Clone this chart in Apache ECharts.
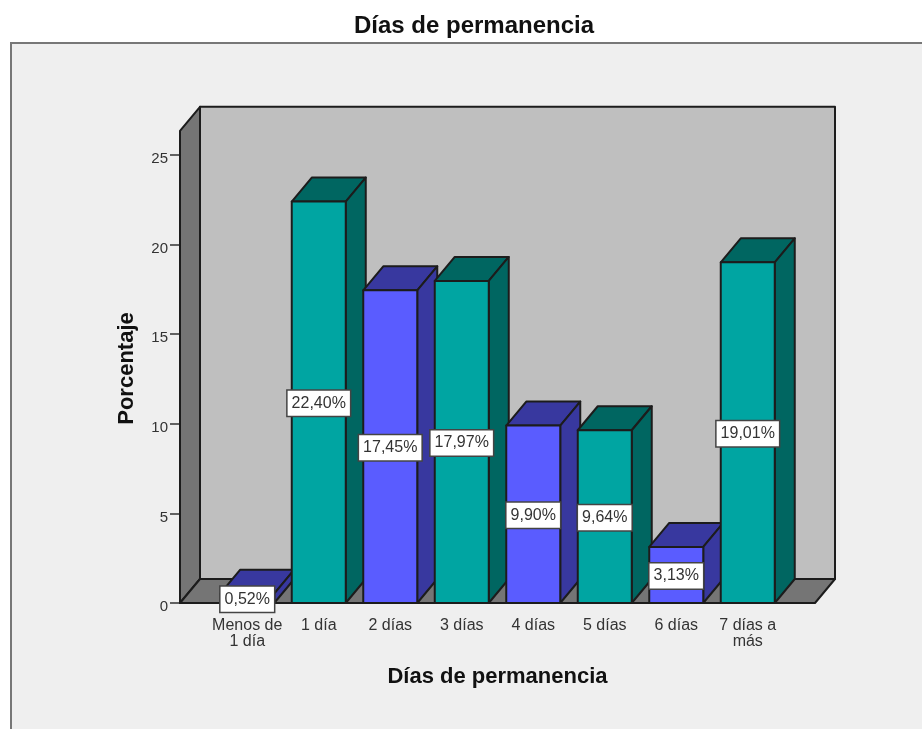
<!DOCTYPE html>
<html>
<head>
<meta charset="utf-8">
<title>Días de permanencia</title>
<script src="https://cdn.jsdelivr.net/npm/echarts@6/dist/echarts.min.js"></script>
<style>
  html, body { margin: 0; padding: 0; background: #fff; }
  #chart { width: 922px; height: 729px; }
</style>
</head>
<body>
<div id="chart"></div>
<script>
const categories = ['Menos de\n1 día', '1 día', '2 días', '3 días', '4 días', '5 días', '6 días', '7 días a\nmás'];
const percentages = [0.52, 22.40, 17.45, 17.97, 9.90, 9.64, 3.13, 19.01];
const valueLabels = ['0,52%', '22,40%', '17,45%', '17,97%', '9,90%', '9,64%', '3,13%', '19,01%'];
const blueCategories = ['Menos de\n1 día', '2 días', '4 días', '6 días'];
const wallTopValue = 26.35;

const DEPTH_X = 20;
const DEPTH_Y = -24;
const WALL_PAD = 31.5;
const BAR_WIDTH = 54;
const LINE = '#1c1c1c';
const LINE_W = 2;
const TEXT = '#333';
const FONT = 'Liberation Sans, Arial, sans-serif';

const face = (points, fill) => ({
  type: 'polygon',
  shape: { points },
  style: { fill, stroke: LINE, lineWidth: LINE_W, lineJoin: 'round' }
});

const renderWalls = (params, api) => {
  const band = api.size([1, 0])[0];
  const left = api.coord([0, 0])[0] - band / 2 - WALL_PAD;
  const right = api.coord([7, 0])[0] + band / 2 + WALL_PAD;
  const base = api.coord([0, 0])[1];
  const top = api.coord([0, wallTopValue])[1];
  return {
    type: 'group',
    children: [
      face([[left + DEPTH_X, top + DEPTH_Y], [right + DEPTH_X, top + DEPTH_Y], [right + DEPTH_X, base + DEPTH_Y], [left + DEPTH_X, base + DEPTH_Y]], '#bfbfbf'),
      face([[left, top], [left + DEPTH_X, top + DEPTH_Y], [left + DEPTH_X, base + DEPTH_Y], [left, base]], '#757575'),
      face([[left, base], [left + DEPTH_X, base + DEPTH_Y], [right + DEPTH_X, base + DEPTH_Y], [right, base]], '#757575')
    ]
  };
};

const renderBar = (params, api) => {
  const i = api.value(0);
  const p = api.coord([i, api.value(1)]);
  const y0 = api.coord([i, 0])[1];
  const x1 = p[0] - BAR_WIDTH / 2;
  const x2 = p[0] + BAR_WIDTH / 2;
  const y1 = p[1];
  const blue = blueCategories.indexOf(categories[i]) >= 0;
  const front = blue ? '#5a5cff' : '#00a5a2';
  const shade = blue ? '#38389f' : '#006661';
  return {
    type: 'group',
    children: [
      face([[x1, y1], [x1 + DEPTH_X, y1 + DEPTH_Y], [x2 + DEPTH_X, y1 + DEPTH_Y], [x2, y1]], shade),
      face([[x2, y1], [x2 + DEPTH_X, y1 + DEPTH_Y], [x2 + DEPTH_X, y0 + DEPTH_Y], [x2, y0]], shade),
      face([[x1, y1], [x2, y1], [x2, y0], [x1, y0]], front)
    ]
  };
};

const renderLabel = (params, api) => {
  const i = api.value(0);
  const p = api.coord([i, api.value(1) / 2]);
  return {
    type: 'text',
    style: {
      x: p[0],
      y: p[1] + 1,
      text: valueLabels[i],
      align: 'center',
      verticalAlign: 'middle',
      fill: TEXT,
      font: '16px ' + FONT,
      backgroundColor: '#fff',
      borderColor: '#444',
      borderWidth: 1.5,
      padding: [5, 4, 4, 4]
    }
  };
};

const rows = percentages.map((v, i) => [i, v]);

const option = {
  animation: false,
  backgroundColor: '#fff',
  title: {
    text: 'Días de permanencia',
    left: 469,
    top: 9,
    textAlign: 'center',
    textStyle: { color: '#111', fontFamily: FONT, fontWeight: 'bold', fontSize: 24 }
  },
  graphic: [{
    type: 'rect',
    z: -10,
    shape: { x: 11, y: 43, width: 930, height: 710 },
    style: { fill: '#efefef', stroke: '#777', lineWidth: 2 }
  }],
  grid: { left: 211.5, top: 155, width: 572, bottom: 126 },
  xAxis: {
    type: 'category',
    data: categories,
    name: 'Días de permanencia',
    nameLocation: 'middle',
    nameGap: 63,
    nameTextStyle: { color: '#111', fontFamily: FONT, fontWeight: 'bold', fontSize: 22 },
    axisLine: { show: false },
    axisTick: { alignWithLabel: true, length: 10, lineStyle: { color: '#333', width: 1.5 } },
    axisLabel: { color: TEXT, fontFamily: FONT, fontSize: 16, lineHeight: 16, margin: 15, interval: 0 }
  },
  yAxis: {
    type: 'value',
    min: 0,
    max: 25,
    interval: 5,
    offset: 31.5,
    name: 'Porcentaje',
    nameLocation: 'middle',
    nameGap: 42,
    nameTextStyle: { color: '#111', fontFamily: FONT, fontWeight: 'bold', fontSize: 22, padding: [0, 0, 0, 21] },
    splitLine: { show: false },
    axisLine: { show: true, lineStyle: { color: LINE, width: LINE_W } },
    axisTick: { show: true, length: 10, lineStyle: { color: '#333', width: 1.5 } },
    axisLabel: {
      margin: 12,
      formatter: (v) => '{n|' + v + '}',
      rich: { n: { color: TEXT, fontFamily: FONT, fontSize: 15, padding: [8, 0, 0, 0] } }
    }
  },
  series: [
    { type: 'custom', name: 'paredes', z: 1, renderItem: renderWalls, data: [[0, 0]], silent: true, clip: false },
    { type: 'custom', name: 'Porcentaje', z: 3, renderItem: renderBar, data: rows, encode: { x: 0, y: 1 }, clip: false },
    { type: 'custom', name: 'etiquetas', z: 5, renderItem: renderLabel, data: rows, encode: { x: 0, y: 1 }, silent: true, clip: false }
  ]
};

const myChart = echarts.init(document.getElementById('chart'), null, { renderer: 'canvas' });
myChart.setOption(option);
</script>
</body>
</html>
